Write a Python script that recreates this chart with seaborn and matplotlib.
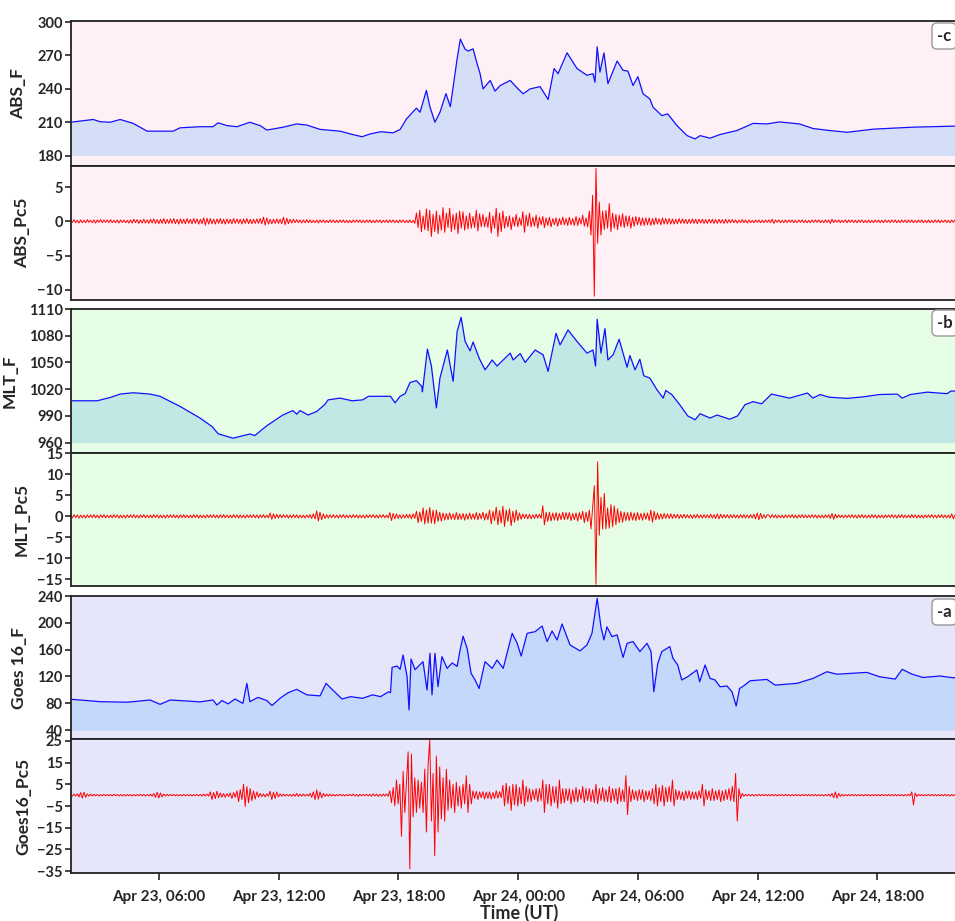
import numpy as np
import pandas as pd
import matplotlib
matplotlib.use("Agg")
import matplotlib.pyplot as plt
import matplotlib.dates as mdates
import seaborn as sns

# ---------------- data ----------------
DAY0 = pd.Timestamp("2023-04-23 00:00")

# F series: (hours since Apr 23 00:00 UT, value)
ABS_F_POINTS = [
    (1.55, 210), (2.7, 212.5), (3.04, 210.5), (3.55, 210), (4.05, 212.5), (4.7, 209), (5.4, 202),
    (6.4, 202), (6.7, 202), (7.05, 205), (8.05, 206), (8.7, 206), (8.96, 209.5), (9.4, 207),
    (9.9, 206), (10.55, 210), (11.06, 207), (11.4, 203), (12.2, 205.5), (12.9, 208.5), (13.4, 207.5),
    (14.07, 203.6), (15.07, 202), (15.7, 199), (16.17, 197), (16.6, 199.6), (17.1, 201.5),
    (17.73, 200.5), (18.08, 203.5), (18.4, 213), (18.9, 222.7), (19.08, 219), (19.4, 238.6),
    (19.58, 223.6), (19.83, 210), (20.08, 219), (20.38, 235.7), (20.6, 224), (20.94, 267),
    (21.1, 284.7), (21.34, 275.6), (21.5, 274), (21.74, 276), (21.94, 262.7), (22.09, 253.7),
    (22.24, 240), (22.6, 247.6), (22.84, 238), (23.1, 243), (23.6, 247.6), (23.94, 241),
    (24.25, 235.6), (24.6, 240), (25.1, 242), (25.5, 230.5), (25.8, 258.3), (26.0, 253.7),
    (26.45, 272.4), (26.95, 258.3), (27.45, 252.2), (27.75, 253.7), (27.85, 246), (27.96, 277.7),
    (28.1, 255), (28.3, 272.4), (28.5, 244.7), (28.96, 265), (29.26, 256.7), (29.5, 256),
    (29.76, 243), (30.0, 251), (30.26, 235.6), (30.6, 231), (30.76, 223.6), (31.2, 216),
    (31.5, 217.5), (31.96, 207), (32.47, 198), (32.87, 195), (33.12, 198), (33.62, 195.7),
    (34.12, 199), (34.97, 202.6), (35.78, 209), (36.47, 208.5), (37.1, 210.3), (38.1, 208.5),
    (38.78, 204.4), (39.6, 202.6), (40.5, 201), (41.8, 203.8), (43.8, 205.6), (45.8, 206.5),
    (47.9, 207),
]

MLT_F_POINTS = [
    (1.55, 1007), (2.9, 1007), (3.55, 1010.7), (4.05, 1014.5), (4.7, 1016), (5.55, 1014.5),
    (6.05, 1012), (7.05, 1000.7), (8.05, 987.6), (8.66, 978), (8.96, 970), (9.7, 965),
    (10.55, 969.7), (10.8, 968), (11.4, 979), (12.2, 991), (12.7, 996), (12.9, 992), (13.07, 996),
    (13.47, 991), (13.9, 995), (14.3, 1002.6), (14.47, 1008), (15.07, 1010), (15.67, 1007),
    (16.2, 1008), (16.5, 1012), (17.1, 1012), (17.6, 1012), (17.83, 1004.7), (18.08, 1012),
    (18.33, 1015), (18.58, 1027.5), (18.9, 1029.6), (19.17, 1023), (19.2, 1017), (19.45, 1065),
    (19.65, 1046), (19.9, 999), (20.08, 1032.5), (20.45, 1064), (20.74, 1028.8), (20.94, 1084.7),
    (21.14, 1100.7), (21.34, 1073.6), (21.59, 1063), (21.74, 1073), (22.04, 1055), (22.34, 1041.7),
    (22.7, 1052.8), (22.94, 1046), (23.6, 1060.5), (23.75, 1052.8), (24.1, 1060), (24.35, 1050),
    (24.85, 1064), (25.25, 1058.6), (25.5, 1040), (25.9, 1082.8), (26.1, 1069.7), (26.5, 1086.5),
    (26.95, 1073.6), (27.45, 1060.5), (27.75, 1064), (27.88, 1046), (27.96, 1098.5),
    (28.15, 1060.5), (28.35, 1088), (28.5, 1052.8), (28.76, 1058.6), (29.06, 1076),
    (29.46, 1044.6), (29.6, 1057.8), (29.86, 1041.7), (30.1, 1053.6), (30.3, 1035),
    (30.6, 1032.5), (30.96, 1019.3), (31.27, 1010), (31.4, 1018.6), (31.7, 1014), (32.1, 1002.6),
    (32.5, 990), (32.87, 985.7), (33.12, 992.5), (33.62, 987.6), (33.97, 991), (34.6, 986.3),
    (35.0, 990), (35.37, 1002.6), (35.78, 1006), (36.2, 1003.6), (36.7, 1014.5), (37.6, 1010),
    (38.5, 1015.7), (38.78, 1010), (39.13, 1014), (39.6, 1011), (40.5, 1009.7), (41.3, 1011.4),
    (42.1, 1014), (43.0, 1014.5), (43.25, 1010), (43.65, 1014), (44.5, 1016.7), (45.5, 1015),
    (45.7, 1018), (47.9, 1016),
]

GOES_F_POINTS = [
    (1.55, 86), (3.04, 82.3), (4.4, 81.5), (5.55, 84.8), (6.05, 78.3), (6.55, 84.8), (7.4, 83.3),
    (8.05, 82), (8.7, 84.8), (8.9, 77.3), (9.15, 84), (9.46, 79), (9.8, 86.3), (10.2, 79.8),
    (10.4, 109.7), (10.55, 82.3), (10.96, 88.7), (11.4, 84), (11.66, 76.5), (12.07, 87.6),
    (12.47, 95.7), (12.9, 100.7), (13.4, 92.5), (14.07, 91), (14.37, 109.7), (14.7, 99.8),
    (15.17, 86.3), (15.6, 89.8), (16.2, 87.3), (16.7, 92.5), (17.1, 89.8), (17.5, 97),
    (17.6, 95.7), (17.68, 133.5), (17.93, 135.5), (18.08, 130.6), (18.23, 152), (18.43, 119.6),
    (18.53, 70), (18.63, 146), (18.83, 130), (19.08, 137.5), (19.23, 142), (19.43, 99.8),
    (19.58, 154.5), (19.68, 92.5), (19.83, 154.5), (19.98, 104.8), (20.18, 149.5), (20.44, 132),
    (20.69, 140), (20.94, 135), (21.09, 159.4), (21.24, 180), (21.44, 162), (21.64, 124.6),
    (21.84, 114.7), (22.04, 102), (22.34, 142), (22.7, 132), (22.94, 144.5), (23.25, 132),
    (23.45, 155.4), (23.7, 184.3), (23.95, 169.4), (24.15, 150.4), (24.45, 184.3), (24.85, 186.8),
    (25.2, 195.2), (25.45, 172), (25.7, 187.8), (25.95, 174.4), (26.2, 198.2), (26.6, 167),
    (27.1, 158), (27.45, 167), (27.7, 184.3), (27.96, 236.5), (28.15, 194), (28.3, 174.4),
    (28.45, 194), (28.7, 179.4), (28.96, 182), (29.26, 148.4), (29.46, 169.4), (29.76, 172),
    (30.1, 157), (30.46, 169.4), (30.66, 157), (30.8, 97.2), (31.0, 139.6), (31.2, 157),
    (31.6, 164.5), (31.76, 147), (32.0, 137), (32.2, 114.7), (32.5, 119.6), (32.96, 129.6),
    (33.1, 112), (33.37, 137), (33.62, 117), (33.87, 114.7), (34.12, 104.5), (34.47, 105.7),
    (34.72, 97), (34.93, 75.8), (35.1, 102), (35.3, 105.7), (35.63, 113.5), (36.47, 115.5),
    (36.88, 107), (37.98, 109.7), (38.78, 117), (39.48, 127), (39.98, 123.3), (41.48, 126),
    (42.1, 119.6), (42.9, 116), (43.25, 130.6), (43.75, 123.3), (44.3, 118.4), (45.15, 120.6),
    (45.8, 118), (47.9, 121),
]

# Pc5 series: 5-minute samples starting Apr 23 01:34 UT (one line = one hour)
PC5_START = "2023-04-23 01:34"
PC5_STEP_MIN = 5

ABS_PC5 = [
    0.2, -0.15, 0.25, -0.2, 0.15, -0.25, 0.2, -0.2, 0.15, -0.2, 0.25, -0.15,
    0.15, -0.2, 0.2, -0.25, 0.2, -0.15, 0.25, -0.2, 0.2, -0.15, 0.2, -0.2,
    0.25, -0.2, 0.15, -0.2, 0.2, -0.25, 0.2, -0.15, 0.2, -0.2, 0.15, -0.25,
    0.2, -0.25, 0.3, -0.2, 0.25, -0.3, 0.2, -0.25, 0.3, -0.25, 0.2, -0.3,
    0.3, -0.25, 0.35, -0.3, 0.25, -0.35, 0.3, -0.3, 0.4, -0.35, 0.3, -0.3,
    0.35, -0.3, 0.4, -0.35, 0.3, -0.4, 0.35, -0.3, 0.3, -0.35, 0.4, -0.3,
    0.3, -0.35, 0.4, -0.3, 0.35, -0.4, 0.3, -0.35, 0.5, -0.55, 0.45, -0.4,
    0.4, -0.35, 0.3, -0.4, 0.35, -0.3, 0.4, -0.35, 0.3, -0.4, 0.35, -0.3,
    0.3, -0.35, 0.4, -0.3, 0.35, -0.3, 0.3, -0.4, 0.35, -0.3, 0.4, -0.35,
    0.3, -0.35, 0.3, -0.3, 0.35, -0.3, 0.4, -0.35, 0.6, -0.55, 0.5, -0.4,
    0.3, -0.35, 0.3, -0.3, 0.35, -0.3, 0.3, -0.35, 0.6, -0.5, 0.45, -0.35,
    0.3, -0.25, 0.3, -0.2, 0.25, -0.2, 0.2, -0.25, 0.2, -0.2, 0.25, -0.2,
    0.2, -0.2, 0.15, -0.2, 0.2, -0.25, 0.2, -0.15, 0.2, -0.2, 0.15, -0.2,
    0.2, -0.15, 0.2, -0.2, 0.15, -0.2, 0.2, -0.15, 0.2, -0.2, 0.15, -0.2,
    0.15, -0.2, 0.2, -0.15, 0.2, -0.15, 0.2, -0.2, 0.15, -0.2, 0.2, -0.15,
    0.2, -0.2, 0.15, -0.2, 0.2, -0.15, 0.2, -0.2, 0.15, -0.15, 0.2, -0.2,
    0.2, -0.15, 0.2, -0.2, 0.15, -0.2, 0.2, -0.15, 0.2, -0.2, 0.15, -0.2,
    0.2, -0.2, 0.15, -0.3, 1.2, -0.9, 1.6, -1.5, 0.8, -1.2, 1.8, -1.4,
    1.6, -2.2, 1.0, -1.5, 1.5, -1.8, 0.9, -1.3, 2.0, -1.6, 1.2, -0.9,
    1.9, -1.5, 1.0, -1.2, 1.2, -1.8, 1.5, -1.0, 1.4, -1.3, 0.8, -1.1,
    1.2, -1.0, 0.7, -0.9, 1.6, -1.4, 1.1, -0.8, 1.0, -0.8, 0.6, -0.9,
    1.3, -1.7, 0.8, -1.0, 1.9, -2.2, 1.2, -1.5, 1.5, -1.0, 0.7, -0.8,
    0.8, -1.2, 0.6, -0.7, 1.0, -0.8, 0.5, -0.6, 1.4, -1.6, 0.9, -0.7,
    1.2, -0.8, 0.6, -0.7, 0.9, -1.0, 0.6, -0.5, 0.7, -0.9, 0.5, -0.6,
    0.6, -0.8, 0.4, -0.5, 0.5, -0.7, 0.4, -0.5, 0.6, -0.5, 0.4, -0.6,
    0.6, -0.5, 0.4, -0.6, 0.7, -0.6, 0.5, -0.4, 0.9, -0.7, 0.5, -0.8,
    1.5, -2.0, 3.8, -10.9, 7.7, -3.2, 2.8, -2.0, 1.5, -1.2, 1.6, -1.0,
    2.6, -1.5, 1.2, -1.0, 1.0, -1.2, 0.9, -0.8, 1.1, -0.9, 0.8, -0.7,
    0.8, -1.0, 0.6, -0.7, 0.7, -0.5, 0.6, -0.6, 0.5, -0.6, 0.5, -0.5,
    0.5, -0.6, 0.4, -0.5, 0.5, -0.4, 0.4, -0.5, 0.5, -0.4, 0.4, -0.4,
    0.4, -0.4, 0.35, -0.4, 0.3, -0.35, 0.4, -0.3, 0.35, -0.3, 0.3, -0.35,
    0.3, -0.3, 0.35, -0.3, 0.3, -0.35, 0.3, -0.25, 0.3, -0.3, 0.25, -0.3,
    0.3, -0.25, 0.3, -0.3, 0.25, -0.3, 0.3, -0.25, 0.25, -0.3, 0.3, -0.25,
    0.25, -0.2, 0.25, -0.2, 0.2, -0.25, 0.2, -0.2, 0.25, -0.2, 0.2, -0.25,
    0.2, -0.2, 0.15, -0.2, 0.2, -0.15, 0.2, -0.2, 0.15, -0.2, 0.2, -0.15,
    0.2, -0.2, 0.3, -0.3, 0.2, -0.15, 0.2, -0.2, 0.15, -0.2, 0.2, -0.2,
    0.2, -0.15, 0.2, -0.2, 0.15, -0.2, 0.2, -0.15, 0.2, -0.2, 0.15, -0.2,
    0.15, -0.2, 0.2, -0.15, 0.2, -0.15, 0.2, -0.2, 0.15, -0.2, 0.2, -0.15,
    0.2, -0.3, 0.3, -0.2, 0.2, -0.15, 0.2, -0.2, 0.15, -0.15, 0.2, -0.2,
    0.2, -0.15, 0.2, -0.2, 0.15, -0.2, 0.2, -0.15, 0.2, -0.2, 0.15, -0.2,
    0.2, -0.2, 0.15, -0.2, 0.2, -0.15, 0.2, -0.2, 0.15, -0.2, 0.2, -0.15,
    0.15, -0.2, 0.2, -0.15, 0.2, -0.2, 0.15, -0.2, 0.2, -0.15, 0.2, -0.2,
    0.2, -0.15, 0.2, -0.2, 0.15, -0.2, 0.2, -0.15, 0.2, -0.2, 0.15, -0.2,
    0.2, -0.2, 0.15, -0.2, 0.2, -0.15, 0.2, -0.2, 0.15, -0.15, 0.2, -0.2,
    0.15, -0.2, 0.2, -0.15, 0.2, -0.2, 0.15, -0.2, 0.2, -0.15, 0.2, -0.2,
    0.2, -0.15, 0.2, -0.2, 0.15, -0.2, 0.2, -0.15, 0.2, -0.2, 0.15, -0.2,
    0.2, -0.2, 0.15, -0.2, 0.2, -0.15, 0.2, -0.2, 0.15, -0.2, 0.2, -0.15,
]

MLT_PC5 = [
    0.3, -0.35, 0.4, -0.3, 0.35, -0.4, 0.3, -0.35, 0.3, -0.4, 0.35, -0.3,
    0.35, -0.3, 0.4, -0.35, 0.3, -0.4, 0.35, -0.3, 0.4, -0.35, 0.3, -0.35,
    0.3, -0.35, 0.4, -0.3, 0.35, -0.4, 0.3, -0.35, 0.3, -0.4, 0.35, -0.3,
    0.35, -0.3, 0.4, -0.35, 0.3, -0.4, 0.35, -0.3, 0.4, -0.35, 0.3, -0.35,
    0.3, -0.35, 0.4, -0.3, 0.35, -0.4, 0.3, -0.35, 0.3, -0.4, 0.35, -0.3,
    0.35, -0.3, 0.4, -0.35, 0.3, -0.4, 0.35, -0.3, 0.4, -0.35, 0.3, -0.35,
    0.3, -0.35, 0.4, -0.3, 0.35, -0.4, 0.3, -0.35, 0.3, -0.4, 0.35, -0.3,
    0.35, -0.3, 0.4, -0.35, 0.3, -0.4, 0.35, -0.3, 0.4, -0.35, 0.3, -0.35,
    0.3, -0.35, 0.4, -0.3, 0.35, -0.4, 0.3, -0.35, 0.3, -0.4, 0.35, -0.3,
    0.35, -0.3, 0.4, -0.35, 0.3, -0.4, 0.35, -0.3, 0.4, -0.35, 0.3, -0.35,
    0.8, -0.7, 0.6, -0.5, 0.5, -0.4, 0.4, -0.35, 0.4, -0.3, 0.35, -0.4,
    0.3, -0.35, 0.4, -0.3, 0.35, -0.4, 0.3, -0.35, 0.3, -0.4, 0.35, -0.3,
    0.4, -0.5, 0.6, -0.6, 1.3, -1.1, 1.0, -0.8, 0.6, -0.5, 0.4, -0.4,
    0.35, -0.3, 0.4, -0.35, 0.3, -0.4, 0.35, -0.3, 0.4, -0.35, 0.3, -0.35,
    0.3, -0.35, 0.4, -0.3, 0.35, -0.4, 0.3, -0.35, 0.3, -0.4, 0.35, -0.3,
    0.35, -0.3, 0.4, -0.35, 0.3, -0.4, 0.35, -0.3, 0.4, -0.35, 0.3, -0.35,
    0.9, -1.0, 0.7, -0.6, 0.6, -0.5, 0.4, -0.5, 0.4, -0.4, 0.5, -0.4,
    0.5, -0.6, 0.6, -0.5, 1.2, -1.5, 1.0, -1.2, 2.0, -1.8, 1.5, -1.6,
    2.1, -1.6, 1.5, -1.8, 1.5, -1.2, 1.0, -1.1, 0.8, -0.9, 0.7, -0.8,
    0.8, -0.7, 0.6, -0.8, 0.9, -0.8, 0.6, -0.7, 0.7, -0.9, 0.6, -0.7,
    0.8, -0.7, 0.6, -0.7, 0.9, -0.8, 0.7, -0.6, 1.0, -0.9, 0.7, -0.8,
    1.5, -1.8, 1.2, -1.0, 2.2, -2.0, 1.4, -1.6, 2.4, -2.4, 1.5, -1.2,
    1.8, -2.2, 1.2, -1.4, 1.5, -1.0, 0.8, -0.7, 0.6, -0.5, 0.5, -0.6,
    0.5, -0.6, 0.4, -0.5, 0.5, -0.4, 0.5, -0.5, 2.5, -2.0, 1.0, -1.2,
    1.0, -1.1, 0.8, -0.9, 0.9, -1.0, 0.7, -0.8, 1.0, -0.8, 0.9, -0.7,
    0.9, -1.0, 0.7, -0.8, 0.8, -1.1, 0.9, -0.7, 1.2, -1.5, 1.0, -1.2,
    1.5, -3.0, 2.0, 7.3, -16.2, 13.0, -4.5, 4.5, -3.0, 5.5, -3.0, 2.0,
    -2.8, 2.8, -2.5, 2.5, -2.0, 1.8, -1.5, 1.2, -1.4, 1.0, -1.0, 0.9,
    -1.0, 1.0, -0.9, 0.8, -1.0, 0.9, -0.8, 0.7, -0.9, 0.8, -0.7, 0.8,
    -1.0, 1.5, -1.4, 1.2, -0.8, 0.8, -0.7, 0.6, -0.6, 0.7, -0.5, 0.6,
    -0.5, 0.6, -0.5, 0.5, -0.4, 0.5, -0.5, 0.4, -0.4, 0.5, -0.4, 0.4,
    -0.4, 0.4, -0.5, 0.4, -0.4, 0.5, -0.4, 0.35, -0.4, 0.4, -0.35, 0.4,
    -0.4, 0.5, -0.4, 0.4, -0.5, 0.6, -0.6, 0.5, -0.4, 0.4, -0.35, 0.4,
    -0.4, 0.4, -0.35, 0.4, -0.4, 0.35, -0.4, 0.4, -0.35, 0.4, -0.4, 0.35,
    -0.4, 0.4, -0.4, 0.5, -0.6, 0.8, -0.8, 0.7, -0.5, 0.4, -0.4, 0.4,
    0.3, -0.35, 0.4, -0.3, 0.35, -0.4, 0.3, -0.35, 0.3, -0.4, 0.35, -0.3,
    0.35, -0.3, 0.4, -0.35, 0.3, -0.4, 0.35, -0.3, 0.4, -0.35, 0.3, -0.35,
    0.3, -0.35, 0.4, -0.3, 0.35, -0.4, 0.3, -0.35, 0.3, -0.4, 0.35, -0.3,
    0.4, -0.5, 0.7, -0.7, 0.5, -0.4, 0.35, -0.3, 0.3, -0.35, 0.3, -0.3,
    0.35, -0.3, 0.4, -0.35, 0.3, -0.4, 0.35, -0.3, 0.4, -0.35, 0.3, -0.35,
    0.3, -0.35, 0.4, -0.3, 0.35, -0.4, 0.3, -0.35, 0.3, -0.4, 0.35, -0.3,
    0.35, -0.3, 0.4, -0.35, 0.3, -0.4, 0.35, -0.3, 0.4, -0.35, 0.3, -0.35,
    0.3, -0.35, 0.4, -0.3, 0.35, -0.4, 0.3, -0.35, 0.3, -0.4, 0.35, -0.3,
    0.35, -0.3, 0.4, -0.35, 0.3, -0.4, 0.35, -0.3, 0.4, -0.35, 0.3, -0.35,
    0.3, -0.4, 0.6, -0.6, 0.4, -0.3, 0.3, -0.35, 0.3, -0.3, 0.35, -0.3,
    0.35, -0.3, 0.4, -0.35, 0.3, -0.4, 0.35, -0.3, 0.4, -0.35, 0.3, -0.35,
    0.3, -0.35, 0.4, -0.3, 0.35, -0.4, 0.3, -0.35, 0.3, -0.4, 0.35, -0.3,
]

GOES_PC5 = [
    0.4, -0.5, 0.5, -0.4, 0.6, -0.8, 1.2, -1.4, 1.4, -1.0, 0.6, -0.5,
    0.5, -0.4, 0.4, -0.3, 0.3, -0.4, 0.3, -0.3, 0.35, -0.3, 0.3, -0.3,
    0.3, -0.3, 0.4, -0.3, 0.3, -0.35, 0.3, -0.3, 0.3, -0.35, 0.3, -0.3,
    0.3, -0.4, 0.3, -0.3, 0.35, -0.3, 0.4, -0.3, 0.3, -0.35, 0.3, -0.3,
    0.4, -0.5, 0.8, -1.0, 1.4, -1.3, 1.0, -0.8, 0.5, -0.4, 0.4, -0.3,
    0.3, -0.3, 0.35, -0.3, 0.3, -0.3, 0.3, -0.35, 0.3, -0.3, 0.3, -0.3,
    0.3, -0.4, 0.3, -0.3, 0.35, -0.3, 0.3, -0.4, 0.5, -0.4, 0.5, -0.4,
    1.5, -2.0, 1.2, -1.6, 1.8, -1.2, 1.0, -0.9, 0.8, -1.0, 0.7, -0.6,
    1.0, -1.5, 1.2, -1.0, 2.0, -3.0, 2.5, -2.0, 5.0, -5.2, 4.0, -3.5,
    3.0, -2.5, 2.0, -1.8, 1.5, -1.0, 0.8, -0.7, 0.6, -0.8, 0.6, -0.5,
    1.8, -2.0, 1.4, -1.5, 1.5, -0.8, 0.6, -0.5, 0.5, -0.4, 0.4, -0.4,
    0.4, -0.6, 0.5, -0.5, 0.8, -0.6, 0.5, -0.5, 0.5, -0.4, 0.4, -0.4,
    0.8, -1.0, 1.5, -2.0, 2.4, -1.8, 1.5, -1.2, 0.8, -0.6, 0.5, -0.5,
    0.5, -0.4, 0.3, -0.4, 0.3, -0.3, 0.4, -0.3, 0.3, -0.35, 0.3, -0.3,
    0.4, -0.3, 0.5, -0.4, 0.3, -0.5, 0.4, -0.3, 0.35, -0.3, 0.4, -0.3,
    0.4, -0.5, 0.6, -0.4, 0.5, -0.6, 0.4, -0.5, 0.5, -0.4, 0.6, -0.5,
    2.0, -3.5, 3.5, -5.0, 7.0, -4.0, 5.0, -19.0, 11.0, -8.0, 6.0, 20.0,
    -34.0, 19.0, -10.0, 8.0, -8.0, 7.0, -6.0, 6.0, -8.0, 12.0, -17.0, 14.0,
    25.5, -12.0, 10.0, -28.0, 18.0, -17.0, 13.0, -11.0, 8.0, -12.0, 12.0, -7.0,
    7.0, -6.0, 5.0, -8.0, 6.0, -5.0, 4.0, -6.0, 5.0, -4.0, 9.0, -8.0,
    5.0, -4.0, 2.0, -1.5, 1.8, -2.0, 1.5, -1.2, 1.6, -1.8, 1.4, -1.5,
    1.5, -1.8, 1.2, -1.5, 2.0, -1.4, 1.6, -1.2, 4.5, -5.0, 5.5, -4.0,
    4.0, -7.0, 5.0, -4.5, 5.0, -5.0, 3.5, -4.0, 7.0, -5.0, 4.0, -3.0,
    3.0, -3.0, 2.5, -2.0, 3.0, -3.0, 3.0, -2.5, 7.0, -8.0, 5.0, -4.0,
    5.0, -5.0, 4.0, -3.5, 4.0, -6.0, 7.0, -4.0, 3.0, -3.5, 3.0, -2.5,
    3.0, -4.0, 2.5, -3.0, 3.5, -3.0, 2.5, -2.0, 4.0, -3.5, 3.0, -2.5,
    3.0, -3.0, 2.5, -3.5, 5.0, -4.0, 3.0, -2.5, 3.5, -3.0, 2.5, -3.0,
    4.0, -3.5, 3.0, -2.5, 3.0, -4.0, 3.5, -3.0, 2.5, -3.0, 9.0, -9.0,
    4.0, -3.0, 2.5, -2.0, 2.0, -2.5, 2.5, -2.0, 2.5, -3.0, 2.0, -2.0,
    2.0, -2.5, 3.0, -4.0, 5.0, -5.0, 3.5, -3.0, 4.5, -5.0, 3.5, -3.0,
    4.0, -3.0, 7.0, -5.0, 2.5, -2.0, 2.0, -2.0, 1.5, -2.5, 2.0, -1.5,
    2.0, -2.0, 1.5, -1.8, 1.5, -2.0, 2.0, -1.5, 5.0, -5.0, 2.5, -2.0,
    2.0, -2.5, 3.0, -2.5, 2.0, -2.0, 2.5, -3.0, 2.0, -2.5, 2.5, -2.0,
    3.0, -2.5, 4.0, -3.0, 10.0, -12.0, 3.0, -1.5, 0.8, -0.5, 0.4, -0.4,
    0.4, -0.4, 0.3, -0.35, 0.3, -0.3, 0.4, -0.3, 0.3, -0.3, 0.35, -0.3,
    0.3, -0.3, 0.35, -0.3, 0.3, -0.35, 0.3, -0.3, 0.3, -0.3, 0.35, -0.3,
    0.3, -0.35, 0.3, -0.3, 0.35, -0.3, 0.3, -0.3, 0.35, -0.3, 0.3, -0.3,
    0.35, -0.3, 0.3, -0.3, 0.3, -0.35, 0.3, -0.3, 0.3, -0.35, 0.3, -0.3,
    0.4, -0.5, 0.8, -1.2, 1.5, -1.4, 0.8, -0.6, 0.4, -0.4, 0.3, -0.3,
    0.3, -0.3, 0.35, -0.3, 0.3, -0.35, 0.3, -0.3, 0.3, -0.3, 0.35, -0.3,
    0.3, -0.35, 0.3, -0.3, 0.35, -0.3, 0.3, -0.3, 0.35, -0.3, 0.3, -0.3,
    0.35, -0.3, 0.3, -0.3, 0.3, -0.35, 0.3, -0.3, 0.3, -0.35, 0.3, -0.3,
    0.4, -0.3, 1.5, -4.5, 1.0, -0.6, 0.4, -0.3, 0.3, -0.3, 0.3, -0.3,
    0.3, -0.3, 0.35, -0.3, 0.3, -0.35, 0.3, -0.3, 0.3, -0.3, 0.35, -0.3,
    0.3, -0.35, 0.3, -0.3, 0.35, -0.3, 0.3, -0.3, 0.35, -0.3, 0.3, -0.3,
    0.35, -0.3, 0.3, -0.3, 0.3, -0.35, 0.3, -0.3, 0.3, -0.35, 0.3, -0.3,
    0.3, -0.3, 0.35, -0.3, 0.3, -0.35, 0.3, -0.3, 0.3, -0.3, 0.35, -0.3,
]

F_LABELS = ["ABS_F", "MLT_F", "Goes 16_F"]
PC5_LABELS = ["ABS_Pc5", "MLT_Pc5", "Goes16_Pc5"]
PANEL_TAGS = ["-c", "-b", "-a"]
X_TICK_HOURS = [6, 12, 18, 24, 30, 36, 42]

# ---------------- style ----------------
sns.set_style("ticks")
FONT = ["Lato", "DejaVu Sans"]
plt.rcParams["font.family"] = FONT
plt.rcParams["font.weight"] = "bold"
plt.rcParams["axes.labelweight"] = "bold"

W, H = 955, 921
fig = plt.figure(figsize=(W / 100, H / 100), dpi=100)

AX_LEFT_PX, AX_RIGHT_PX = 71, 968
ROWS = [(21, 166), (166, 300), (309, 453), (453, 586), (596, 739), (739, 873)]
YLIMS = [(170.7, 301), (-11.46, 8.06), (948.4, 1110), (-16.6, 15.1), (26.6, 240), (-35.9, 25.9)]
YTICKS = [
    [180, 210, 240, 270, 300],
    [-10, -5, 0, 5],
    [960, 990, 1020, 1050, 1080, 1110],
    [-15, -10, -5, 0, 5, 10, 15],
    [40, 80, 120, 160, 200, 240],
    [-35, -25, -15, -5, 5, 15, 25],
]
BASELINES = [180, 960, 40]
BG_COLORS = ["#fff0f6", "#e6fde6", "#e6e6fb"]
FILL_COLORS = ["#d4dff7", "#c2e8e6", "#c4d8fb"]
YLABEL_X_PX = [26, 30, 18, 30, 27, 31]
TAG_Y_PX = [36, 323, 612]

xmin = DAY0 + pd.Timedelta(hours=1, minutes=35)
xmax = DAY0 + pd.Timedelta(hours=22 + 24, minutes=33)

f_points = [ABS_F_POINTS, MLT_F_POINTS, GOES_F_POINTS]
pc5_vals = [ABS_PC5, MLT_PC5, GOES_PC5]

axes = []
for i, (top, bot) in enumerate(ROWS):
    rect = [AX_LEFT_PX / W, 1 - bot / H, (AX_RIGHT_PX - AX_LEFT_PX) / W, (bot - top) / H]
    ax = fig.add_axes(rect)
    axes.append(ax)
    grp = i // 2
    ax.set_facecolor(BG_COLORS[grp])
    if i % 2 == 0:
        pts = f_points[grp]
        df = pd.DataFrame({
            "time": [DAY0 + pd.Timedelta(hours=h) for h, _ in pts],
            "value": [val for _, val in pts],
        })
        ax.fill_between(df["time"], BASELINES[grp], df["value"], color=FILL_COLORS[grp], lw=0, zorder=1)
        sns.lineplot(data=df, x="time", y="value", ax=ax, color="#1010ff", lw=0.9,
                     estimator=None, sort=False, zorder=2)
        ax.set_ylabel(F_LABELS[grp], fontsize=12.5, fontweight="bold")
        ax.text((937 - AX_LEFT_PX) / (AX_RIGHT_PX - AX_LEFT_PX), 1 - (TAG_Y_PX[grp] - top) / (bot - top),
                PANEL_TAGS[grp], transform=ax.transAxes, ha="left", va="center",
                fontsize=12, fontweight="bold", clip_on=False,
                bbox=dict(boxstyle="round,pad=0.3", fc="white", ec="#999999", lw=1.0))
    else:
        vals = pc5_vals[grp]
        df = pd.DataFrame({
            "time": pd.date_range(PC5_START, periods=len(vals), freq=f"{PC5_STEP_MIN}min"),
            "value": vals,
        })
        sns.lineplot(data=df, x="time", y="value", ax=ax, color="#ff0000", lw=0.7,
                     estimator=None, sort=False)
        ax.set_ylabel(PC5_LABELS[grp], fontsize=12.5, fontweight="bold")
    ax.yaxis.set_label_coords((YLABEL_X_PX[i] - AX_LEFT_PX) / (AX_RIGHT_PX - AX_LEFT_PX), 0.5)
    ax.set_ylim(*YLIMS[i])
    ax.set_yticks(YTICKS[i])
    ax.set_xlim(xmin, xmax)
    ax.set_xlabel("")
    for s in ax.spines.values():
        s.set_linewidth(1.3)
        s.set_color("#222222")
    ax.tick_params(axis="y", labelsize=10.5, length=4, width=1.2, pad=2)
    for lab in ax.get_yticklabels():
        lab.set_fontweight("bold")
    ax.set_xticks([DAY0 + pd.Timedelta(hours=h) for h in X_TICK_HOURS])
    if i < 5:
        ax.tick_params(axis="x", bottom=False, labelbottom=False)

last = axes[-1]
last.xaxis.set_major_formatter(mdates.DateFormatter("%b %d, %H:%M"))
last.tick_params(axis="x", labelsize=11, length=5, width=1.2, pad=7)
for lab in last.get_xticklabels():
    lab.set_fontweight("bold")
last.set_xlabel("Time (UT)", fontsize=13, fontweight="bold", labelpad=0)

fig.savefig("out.png", dpi=100)
